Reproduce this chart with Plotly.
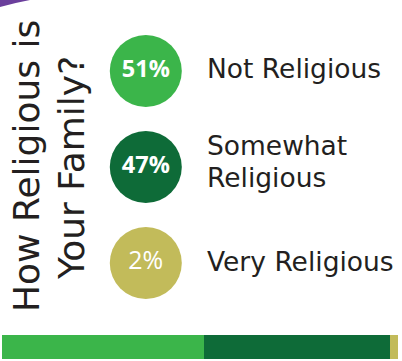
import plotly.graph_objects as go

# Survey: how religious is the respondent's family
categories = ["Not Religious", "Somewhat Religious", "Very Religious"]
label_lines = [["Not Religious"], ["Somewhat", "Religious"], ["Very Religious"]]
shares = [51, 47, 2]
colors = ["#3bb54a", "#0e6b38", "#c2bb5a"]
title_lines = ["How Religious is", "Your Family?"]

W, H = 402, 361
FONT = "DejaVu Sans"
PCT_FONT = "Open Sans"
INK = "#231f20"

fig = go.Figure()

# Percentage discs (small shares get a lighter, slightly larger figure)
pct_text = [f"{v}%" for v in shares]
pct_weight = [700 if v >= 10 else 500 for v in shares]
pct_size = [23.5 if v >= 10 else 25 for v in shares]
fig.add_trace(go.Scatter(
    x=[145.8] * len(categories), y=categories,
    mode="markers+text",
    marker=dict(size=72, color=colors, line=dict(width=0)),
    text=pct_text, textposition="middle center",
    textfont=dict(family=PCT_FONT, size=pct_size, weight=pct_weight, color="white"),
    hoverinfo="skip", showlegend=False, xaxis="x", yaxis="y",
))

# Category labels beside the discs (one annotation per line for tight leading)
pitch = 96.0
leading = 31.5
label_shift = [-2.5, -5.5, -2.0]   # px nudge of each label block
for i, lines in enumerate(label_lines):
    n = len(lines)
    for j, line in enumerate(lines):
        off = ((j - (n - 1) / 2) * leading + label_shift[i]) / pitch
        fig.add_annotation(
            text=line, x=205, y=i + off, xref="x", yref="y",
            xanchor="left", yanchor="middle", showarrow=False,
            font=dict(family=FONT, size=26.5, color=INK),
        )

# Stacked share bar along the bottom
for cat, v, c in zip(categories, shares, colors):
    fig.add_trace(go.Bar(
        x=[v], y=[0], orientation="h", width=1,
        marker=dict(color=c, line=dict(width=0)),
        name=cat, showlegend=False, hoverinfo="skip",
        xaxis="x2", yaxis="y2",
    ))

# Rotated two-line title
for x, yc, line in zip([26, 71], [166, 168], title_lines):
    fig.add_annotation(
        text=line, textangle=-90, xref="x", yref="paper",
        x=x, y=1 - yc / H, showarrow=False,
        font=dict(family=FONT, size=36, color=INK),
    )

# Purple corner accent
fig.add_shape(type="path", xref="x", yref="y domain",
              path=f"M 0 1 L 30 1 Q 14 {1 - 3 / H} 0 {1 - 7 / H} Z",
              fillcolor="#6b3f9c", line=dict(width=0), layer="above")

axis_off = dict(visible=False, showgrid=False, zeroline=False, fixedrange=True)
fig.update_layout(
    width=W, height=H, margin=dict(l=0, r=0, t=0, b=0),
    paper_bgcolor="white", plot_bgcolor="white",
    barmode="stack", bargap=0,
    xaxis=dict(range=[0, W], domain=[0, 1], **axis_off),
    yaxis=dict(type="category", categoryorder="array", categoryarray=categories,
               range=[(H - 71) / pitch, -71 / pitch], domain=[0, 1], **axis_off),
    xaxis2=dict(range=[0, 100], domain=[2 / W, 398 / W], anchor="y2", **axis_off),
    yaxis2=dict(range=[-0.5, 0.5], domain=[2 / H, 26 / H], anchor="x2", **axis_off),
)

fig.write_html("out.html")
